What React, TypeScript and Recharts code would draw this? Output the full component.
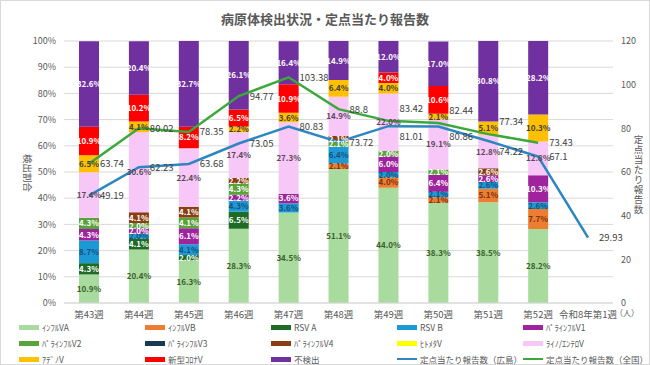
import React from 'react';
import {
  ComposedChart,
  Bar,
  Line,
  XAxis,
  YAxis,
  CartesianGrid,
  LabelList,
} from 'recharts';

const weeks = ['第43週', '第44週', '第45週', '第46週', '第47週', '第48週', '第49週', '第50週', '第51週', '第52週', '令和8年第1週'];

// detection share (%) per pathogen, bottom of stack first
const fluA = [10.9, 20.4, 16.3, 28.3, 34.5, 51.1, 44.0, 38.3, 38.5, 28.2, null];
const fluB = [null, null, null, null, null, 2.1, 4.0, 2.1, 5.1, 7.7, null];
const rsvA = [4.3, 4.1, 2.0, 6.5, null, null, null, null, null, null, null];
const rsvB = [8.7, 2.0, 4.1, 4.3, 3.6, 6.4, 2.0, 2.1, 2.6, 2.6, null];
const para1 = [4.3, 2.0, 6.1, 2.2, 3.6, null, 6.0, 6.4, 2.6, 10.3, null];
const para2 = [4.3, 2.0, 4.1, 4.3, null, 2.1, 2.0, 2.1, null, null, null];
const para3 = [null, null, null, null, null, null, null, null, null, null, null];
const para4 = [null, 4.1, 4.1, 2.2, null, 2.1, null, null, 2.6, null, null];
const hmpv = [null, null, null, null, null, null, null, null, null, null, null];
const rhino = [17.4, 30.6, 22.4, 17.4, 27.3, 14.9, 22.0, 19.1, 12.8, 12.8, null];
const adeno = [6.5, 4.1, null, 2.2, 3.6, 6.4, 4.0, 2.1, 5.1, 10.3, null];
const covid = [10.9, 10.2, 8.2, 6.5, 10.9, null, 4.0, 10.6, null, null, null];
const notFound = [32.6, 20.4, 32.7, 26.1, 16.4, 14.9, 12.0, 17.0, 30.8, 28.2, null];

// reports per sentinel site
const hiroshima = [49.19, 62.23, 63.68, 73.05, 80.83, 73.72, 81.01, 80.86, 74.22, 67.1, 29.93];
const national = [63.74, 80.02, 78.35, 94.77, 103.38, 88.8, 83.42, 82.44, 77.34, 73.43, null];

const leftTicks = [0, 10, 20, 30, 40, 50, 60, 70, 80, 90, 100];
const rightTicks = [0, 20, 40, 60, 80, 100, 120];

const barSeries = [
  { key: 'fluA', name: 'ｲﾝﾌﾙVA', values: fluA, color: '#A9DB9F', text: '#3B5E2B' },
  { key: 'fluB', name: 'ｲﾝﾌﾙVB', values: fluB, color: '#ED7D31', text: '#7A3410' },
  { key: 'rsvA', name: 'RSV A', values: rsvA, color: '#1E6B25', text: '#FFFFFF' },
  { key: 'rsvB', name: 'RSV B', values: rsvB, color: '#1C9AD6', text: '#1F4E79' },
  { key: 'para1', name: 'ﾊﾟﾗｲﾝﾌﾙV1', values: para1, color: '#A0239E', text: '#FFFFFF' },
  { key: 'para2', name: 'ﾊﾟﾗｲﾝﾌﾙV2', values: para2, color: '#5AA33A', text: '#FFFFFF' },
  { key: 'para3', name: 'ﾊﾟﾗｲﾝﾌﾙV3', values: para3, color: '#193A50', text: '#FFFFFF' },
  { key: 'para4', name: 'ﾊﾟﾗｲﾝﾌﾙV4', values: para4, color: '#8B3E14', text: '#FFFFFF' },
  { key: 'hmpv', name: 'ﾋﾄﾒﾀV', values: hmpv, color: '#FFFF00', text: '#404040' },
  { key: 'rhino', name: 'ﾗｲﾉ/ｴﾝﾃﾛV', values: rhino, color: '#F7C8F7', text: '#5A4A5A' },
  { key: 'adeno', name: 'ｱﾃﾞﾉV', values: adeno, color: '#FFC000', text: '#404040' },
  { key: 'covid', name: '新型ｺﾛﾅV', values: covid, color: '#FF0000', text: '#FFFFFF' },
  { key: 'notFound', name: '不検出', values: notFound, color: '#7030A0', text: '#FFFFFF' },
];

const lineSeries = [
  { key: 'hiroshima', name: '定点当たり報告数（広島）', values: hiroshima, other: national, color: '#2E86C1' },
  { key: 'national', name: '定点当たり報告数（全国）', values: national, other: hiroshima, color: '#3AA83A' },
];

const data = weeks.map((week, i) => {
  const row: Record<string, any> = { week };
  barSeries.forEach((s) => (row[s.key] = s.values[i]));
  lineSeries.forEach((s) => (row[s.key] = s.values[i]));
  return row;
});

const FONT = '"Noto Sans CJK JP", "Noto Sans", sans-serif';
const rightTitle = '定点当たり報告数';

const barLabel = (color: string) => (props: any) => {
  const { x, y, width, height, value } = props;
  if (value == null) return null;
  return (
    <text
      x={x + width / 2}
      y={y + height / 2}
      dy={3}
      textAnchor="middle"
      fontSize={8}
      fontWeight="bold"
      fill={color}
      fontFamily={FONT}
    >
      {Number(value).toFixed(1)}%
    </text>
  );
};

// labels sit right of the point; when the two lines are close, split them up/down
const lineLabel = (other: (number | null)[]) => (props: any) => {
  const { x, y, value, index } = props;
  if (value == null) return null;
  const o = other[index];
  let dy = 3.5;
  if (o != null && Math.abs(o - value) < 3.5) dy = value > o ? -9 : 14;
  return (
    <text x={x + 11} y={y + dy} fontSize={9.5} fill="#404040" fontFamily={FONT}>
      {value}
    </text>
  );
};

function LegendBox() {
  const items = [
    ...barSeries.map((s) => ({ name: s.name, color: s.color, line: false })),
    ...lineSeries.map((s) => ({ name: s.name, color: s.color, line: true })),
  ];
  return (
    <div
      style={{
        position: 'absolute',
        left: 18,
        top: 319,
        display: 'grid',
        gridTemplateColumns: 'repeat(5, 126px)',
        rowGap: 2,
        fontFamily: FONT,
        fontSize: 8.5,
        color: '#595959',
      }}
    >
      {items.map((it) => (
        <div key={it.name} style={{ display: 'flex', alignItems: 'center', height: 14, whiteSpace: 'nowrap' }}>
          <span
            style={{
              display: 'inline-block',
              width: 20,
              height: it.line ? 2.5 : 5,
              background: it.color,
              marginRight: 3,
            }}
          />
          {it.name}
        </div>
      ))}
    </div>
  );
}

export default function App() {
  return (
    <div
      style={{
        position: 'absolute',
        left: 0,
        top: 0,
        width: 650,
        height: 365,
        boxSizing: 'border-box',
        border: '1px solid #D9D9D9',
        background: '#fff',
        fontFamily: FONT,
      }}
    >
      <div
        style={{
          position: 'absolute',
          top: 8,
          width: '100%',
          textAlign: 'center',
          fontSize: 13,
          fontWeight: 'bold',
          color: '#595959',
        }}
      >
        病原体検出状況・定点当たり報告数
      </div>
      <div style={{ position: 'absolute', left: -1, top: -1 }}>
        <ComposedChart
          width={650}
          height={320}
          data={data}
          margin={{ top: 41, right: 0, bottom: 0, left: 0 }}
          barSize={20}
        >
          <CartesianGrid yAxisId="left" vertical={false} stroke="#D9D9D9" />
          <XAxis
            dataKey="week"
            height={17}
            tickLine={false}
            axisLine={{ stroke: '#D9D9D9' }}
            tick={{ fill: '#595959', fontSize: 9.5, fontFamily: FONT }}
            interval={0}
          />
          <YAxis
            yAxisId="left"
            width={64}
            domain={[0, 100]}
            ticks={leftTicks}
            allowDataOverflow
            tickFormatter={(v: number) => `${v}%`}
            axisLine={false}
            tickLine={false}
            tick={{ fill: '#595959', fontSize: 9, fontFamily: FONT }}
          />
          <YAxis
            yAxisId="right"
            orientation="right"
            width={37}
            domain={[0, 120]}
            ticks={rightTicks}
            axisLine={false}
            tickLine={false}
            tick={{ fill: '#595959', fontSize: 9, fontFamily: FONT, textAnchor: 'start' }}
          />
          {barSeries.map((s) => (
            <Bar
              key={s.key}
              yAxisId="left"
              dataKey={s.key}
              name={s.name}
              stackId="pct"
              fill={s.color}
              isAnimationActive={false}
            >
              <LabelList dataKey={s.key} content={barLabel(s.text)} />
            </Bar>
          ))}
          {lineSeries.map((s) => (
            <Line
              key={s.key}
              yAxisId="right"
              dataKey={s.key}
              name={s.name}
              stroke={s.color}
              strokeWidth={2.5}
              dot={false}
              isAnimationActive={false}
            >
              <LabelList dataKey={s.key} content={lineLabel(s.other)} />
            </Line>
          ))}
        </ComposedChart>
      </div>
      <div
        style={{
          position: 'absolute',
          left: 27,
          top: 172,
          transform: 'translate(-50%, -50%) rotate(90deg)',
          fontSize: 9.5,
          color: '#595959',
          whiteSpace: 'nowrap',
        }}
      >
        検出割合
      </div>
      <div
        style={{
          position: 'absolute',
          left: 632,
          top: 133,
          width: 11,
          fontSize: 9.5,
          lineHeight: '10px',
          color: '#595959',
          textAlign: 'center',
        }}
      >
        {rightTitle.split('').map((ch, i) => (
          <div key={i}>{ch}</div>
        ))}
      </div>
      <div
        style={{
          position: 'absolute',
          left: 614,
          top: 306,
          fontSize: 8,
          color: '#595959',
          whiteSpace: 'nowrap',
        }}
      >
        （人）
      </div>
      <LegendBox />
    </div>
  );
}
